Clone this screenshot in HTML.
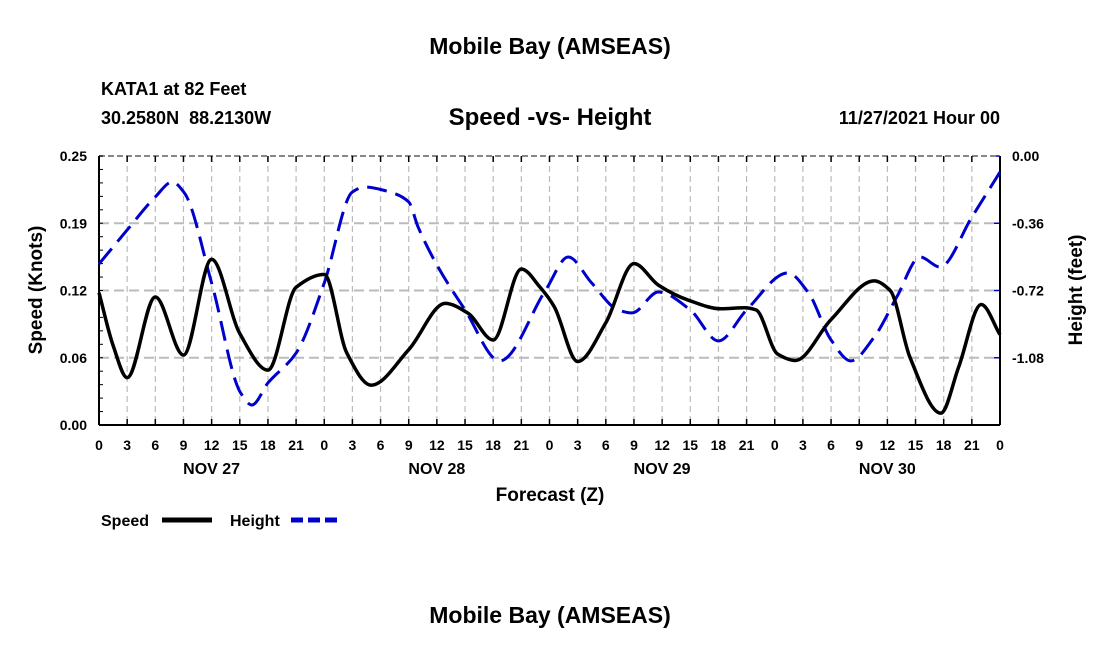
<!DOCTYPE html>
<html><head><meta charset="utf-8"><style>
body{margin:0;background:#fff;}
svg{display:block;font-family:"Liberation Sans",sans-serif;font-weight:bold;}
</style></head><body>
<svg id="chart" width="1100" height="650" viewBox="0 0 1100 650">
<text x="550" y="54" font-size="23" text-anchor="middle">Mobile Bay (AMSEAS)</text>
<text x="101" y="95" font-size="18">KATA1 at 82 Feet</text>
<text x="101" y="124" font-size="18" xml:space="preserve">30.2580N  88.2130W</text>
<text x="550" y="125" font-size="24" text-anchor="middle">Speed -vs- Height</text>
<text x="1000" y="124" font-size="18" text-anchor="end">11/27/2021 Hour 00</text>
<g id="grid"></g>
<g id="axes"></g>
<g id="series"></g>
<text transform="translate(42,290) rotate(-90)" font-size="19" text-anchor="middle">Speed (Knots)</text>
<text transform="translate(1082,290) rotate(-90)" font-size="19" text-anchor="middle">Height (feet)</text>
<text x="550" y="501" font-size="19" text-anchor="middle">Forecast (Z)</text>
<g>
<text x="101" y="526" font-size="16">Speed</text>
<line x1="162" y1="520" x2="212" y2="520" stroke="#000" stroke-width="5"/>
<text x="230" y="526" font-size="16">Height</text>
<line x1="291" y1="520" x2="342" y2="520" stroke="#00c" stroke-width="5" stroke-dasharray="12,5"/>
</g>
<text x="550" y="623" font-size="23" text-anchor="middle">Mobile Bay (AMSEAS)</text>
</svg>
<script>
const speedHours=[0,1.5,3,6,9,12,15,18,21,24,26.4,29,33,36.9,39.3,42,45,47,48.5,51,54,57,59.6,62.8,66.3,68.8,70,72.3,74.2,78,82.6,84.3,86.4,89.7,91.6,94,96];
const speedVals=[0.123,0.074,0.044,0.119,0.065,0.154,0.085,0.051,0.128,0.140,0.067,0.037,0.070,0.113,0.104,0.079,0.145,0.128,0.110,0.059,0.095,0.150,0.130,0.116,0.108,0.109,0.107,0.066,0.060,0.098,0.134,0.125,0.063,0.011,0.054,0.112,0.084];
const heightHours=[0,3,6,7.8,9.1,12,15.1,16.3,18,21,24,27,28.3,31,33,34,36,39,42.7,47.6,50,52.5,55.3,56.8,59.6,63,66,69,73.4,75.6,78,80.1,82.6,85,87.5,89.6,93,96];
const heightVals=[-0.578,-0.396,-0.219,-0.139,-0.198,-0.680,-1.269,-1.333,-1.215,-1.055,-0.680,-0.193,-0.166,-0.193,-0.246,-0.380,-0.583,-0.824,-1.097,-0.717,-0.541,-0.680,-0.824,-0.840,-0.728,-0.824,-0.990,-0.824,-0.626,-0.733,-0.985,-1.097,-0.969,-0.755,-0.541,-0.594,-0.327,-0.086];
const leftTicks=["0.00","0.06","0.12","0.19","0.25"];
const rightTicks=["0.00","-0.36","-0.72","-1.08"];
const dayLabels=["NOV 27","NOV 28","NOV 29","NOV 30"];
const NS="http://www.w3.org/2000/svg";
const X0=99,X1=1000,Y0=156,Y1=425;
const xS=h=>X0+h/96*(X1-X0);
const yL=v=>Y1-v/0.25*(Y1-Y0);
const yR=v=>Y0-v/1.44*(Y1-Y0);
function mk(tag,attrs,parent){const e=document.createElementNS(NS,tag);for(const k in attrs)e.setAttribute(k,attrs[k]);parent.appendChild(e);return e;}
const grid=document.getElementById('grid'),axes=document.getElementById('axes'),ser=document.getElementById('series');
for(let i=1;i<32;i++){const x=xS(i*3);
 const g=mk('line',{x1:x,y1:Y0,x2:x,y2:Y1,stroke:'#bbb','stroke-width':1.2,'stroke-dasharray':'6,4'},grid);
 
 }
for(let i=0;i<=4;i++){const y=yL(i*0.0625);
 if(i>0&&i<4){const g=mk('line',{x1:X0,y1:y,x2:X1,y2:y,stroke:'#bbb','stroke-width':2,'stroke-dasharray':'10,5'},grid);
 
 }
 const t=mk('text',{x:87,y:y+5,'font-size':14,'text-anchor':'end'},axes);t.textContent=leftTicks[i];
 
 }
rightTicks.forEach((s,i)=>{const y=yR(-i*0.36);
 const t=mk('text',{x:1012,y:y+5,'font-size':14},axes);t.textContent=s;
 
 
 mk('line',{x1:X1,y1:y,x2:X1-6,y2:y,stroke:'#00c','stroke-width':1.5},axes);});
mk('line',{x1:X0,y1:Y0,x2:X1,y2:Y0,stroke:'#888','stroke-width':2,'stroke-dasharray':'6,3'},axes);
mk('line',{x1:X0,y1:Y1,x2:X1,y2:Y1,stroke:'#000','stroke-width':2},axes);
mk('line',{x1:X0,y1:Y0,x2:X0,y2:Y1,stroke:'#000','stroke-width':2},axes);
mk('line',{x1:X1,y1:Y0,x2:X1,y2:Y1,stroke:'#000','stroke-width':2},axes);
for(let i=0;i<=32;i++){const x=xS(i*3);
 mk('line',{x1:x,y1:Y1,x2:x,y2:Y1-6,stroke:'#000','stroke-width':1.5},axes);
 mk('line',{x1:x,y1:Y0,x2:x,y2:Y0+6,stroke:'#000','stroke-width':1.5},axes);
 const t=mk('text',{x:x,y:450,'font-size':14,'text-anchor':'middle'},axes);t.textContent=String((i*3)%24);
 
 }
for(let i=0;i<=20;i++){const y=Y1-i*(Y1-Y0)/20;mk('line',{x1:X0,y1:y,x2:X0+4,y2:y,stroke:'#000','stroke-width':1},axes);}
dayLabels.forEach((d,i)=>{const t=mk('text',{x:xS(12+24*i),y:474,'font-size':16,'text-anchor':'middle'},axes);t.textContent=d;
 
 });
// monotone cubic (Fritsch-Carlson) path
function smooth(pts){const n=pts.length,d=[],m=[];
 for(let i=0;i<n-1;i++)d.push((pts[i+1][1]-pts[i][1])/(pts[i+1][0]-pts[i][0]));
 m[0]=d[0];m[n-1]=d[n-2];
 for(let i=1;i<n-1;i++){ if(d[i-1]*d[i]<=0)m[i]=0; else{const h0=pts[i][0]-pts[i-1][0],h1=pts[i+1][0]-pts[i][0];const w1=2*h1+h0,w2=h1+2*h0;m[i]=(w1+w2)/(w1/d[i-1]+w2/d[i]);}}
 let p='M'+pts[0][0]+','+pts[0][1];
 for(let i=0;i<n-1;i++){const h=(pts[i+1][0]-pts[i][0])/3;
  p+=' C'+(pts[i][0]+h)+','+(pts[i][1]+m[i]*h)+' '+(pts[i+1][0]-h)+','+(pts[i+1][1]-m[i+1]*h)+' '+pts[i+1][0]+','+pts[i+1][1];}
 return p;}
const hp=mk('path',{d:smooth(heightHours.map((h,i)=>[xS(h),yR(heightVals[i])])),fill:'none',stroke:'#00c','stroke-width':3,'stroke-dasharray':'20,9'},ser);


const sp=mk('path',{d:smooth(speedHours.map((h,i)=>[xS(h),yL(speedVals[i])])),fill:'none',stroke:'#000','stroke-width':3.5},ser);


</script>
</body></html>
